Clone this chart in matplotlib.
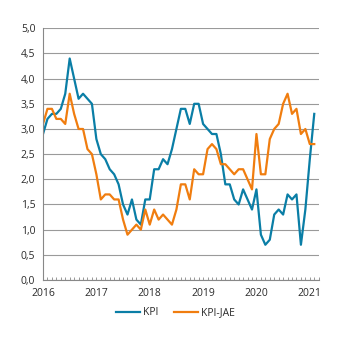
import matplotlib
matplotlib.use('Agg')
import matplotlib.pyplot as plt
import numpy as np
from matplotlib.ticker import FuncFormatter

plt.rcParams['font.family'] = ['Open Sans', 'DejaVu Sans']

year_labels = ['2016', '2017', '2018', '2019', '2020', '2021']

kpi = [2.9, 3.2, 3.3, 3.3, 3.4, 3.7, 4.4, 4.0, 3.6, 3.7, 3.6, 3.5,
       2.8, 2.5, 2.4, 2.2, 2.1, 1.9, 1.5, 1.3, 1.6, 1.2, 1.1, 1.6,
       1.6, 2.2, 2.2, 2.4, 2.3, 2.6, 3.0, 3.4, 3.4, 3.1, 3.5, 3.5,
       3.1, 3.0, 2.9, 2.9, 2.5, 1.9, 1.9, 1.6, 1.5, 1.8, 1.6, 1.4,
       1.8, 0.9, 0.7, 0.8, 1.3, 1.4, 1.3, 1.7, 1.6, 1.7, 0.7, 1.4,
       2.4, 3.3]

kpi_jae = [3.1, 3.4, 3.4, 3.2, 3.2, 3.1, 3.7, 3.3, 3.0, 3.0, 2.6, 2.5,
           2.1, 1.6, 1.7, 1.7, 1.6, 1.6, 1.2, 0.9, 1.0, 1.1, 1.0, 1.4,
           1.1, 1.4, 1.2, 1.3, 1.2, 1.1, 1.4, 1.9, 1.9, 1.6, 2.2, 2.1,
           2.1, 2.6, 2.7, 2.6, 2.3, 2.3, 2.2, 2.1, 2.2, 2.2, 2.0, 1.8,
           2.9, 2.1, 2.1, 2.8, 3.0, 3.1, 3.5, 3.7, 3.3, 3.4, 2.9, 3.0,
           2.7, 2.7]

months = np.arange(len(kpi))
year_pos = np.arange(0, 61, 12)

BLUE = '#0a7ea6'
ORANGE = '#f07d0f'
GRID = '#9a9a9a'
TEXT = '#2b2b2b'
FS = 7.5

fig = plt.figure(figsize=(3.48, 3.41), dpi=100)
ax = fig.add_axes([0.1236, 0.1789, 0.9158 - 0.1236, 0.917 - 0.1789])

ax.plot(months, kpi, color=BLUE, lw=1.6, label='KPI')
ax.plot(months, kpi_jae, color=ORANGE, lw=1.6, label='KPI-JAE')

ax.set_xlim(0, 62)
ax.set_ylim(0, 5)
ax.set_yticks(np.arange(0, 5.01, 0.5))
ax.yaxis.set_major_formatter(FuncFormatter(lambda v, p: f'{v:.1f}'.replace('.', ',')))
ax.grid(axis='y', color=GRID, lw=0.8)
ax.set_axisbelow(True)

for s in ['top', 'right']:
    ax.spines[s].set_visible(False)
for s in ['left', 'bottom']:
    ax.spines[s].set_color('#888888')
    ax.spines[s].set_linewidth(0.8)

ax.tick_params(axis='y', length=0, pad=5.5, labelsize=FS, labelcolor=TEXT)
ax.set_xticks(year_pos)
ax.set_xticklabels(year_labels)
ax.set_xticks(np.arange(0, 63), minor=True)
ax.tick_params(axis='x', which='both', direction='in', length=2.2, width=0.6,
               color='#888888', pad=6, labelsize=FS, labelcolor=TEXT)

fig.legend(loc='center', bbox_to_anchor=(0.504, 0.083), ncol=2, frameon=False,
           fontsize=FS, handlelength=2.3, handletextpad=0.3, columnspacing=1.5,
           labelcolor=TEXT)

fig.savefig('out.png', dpi=100)
